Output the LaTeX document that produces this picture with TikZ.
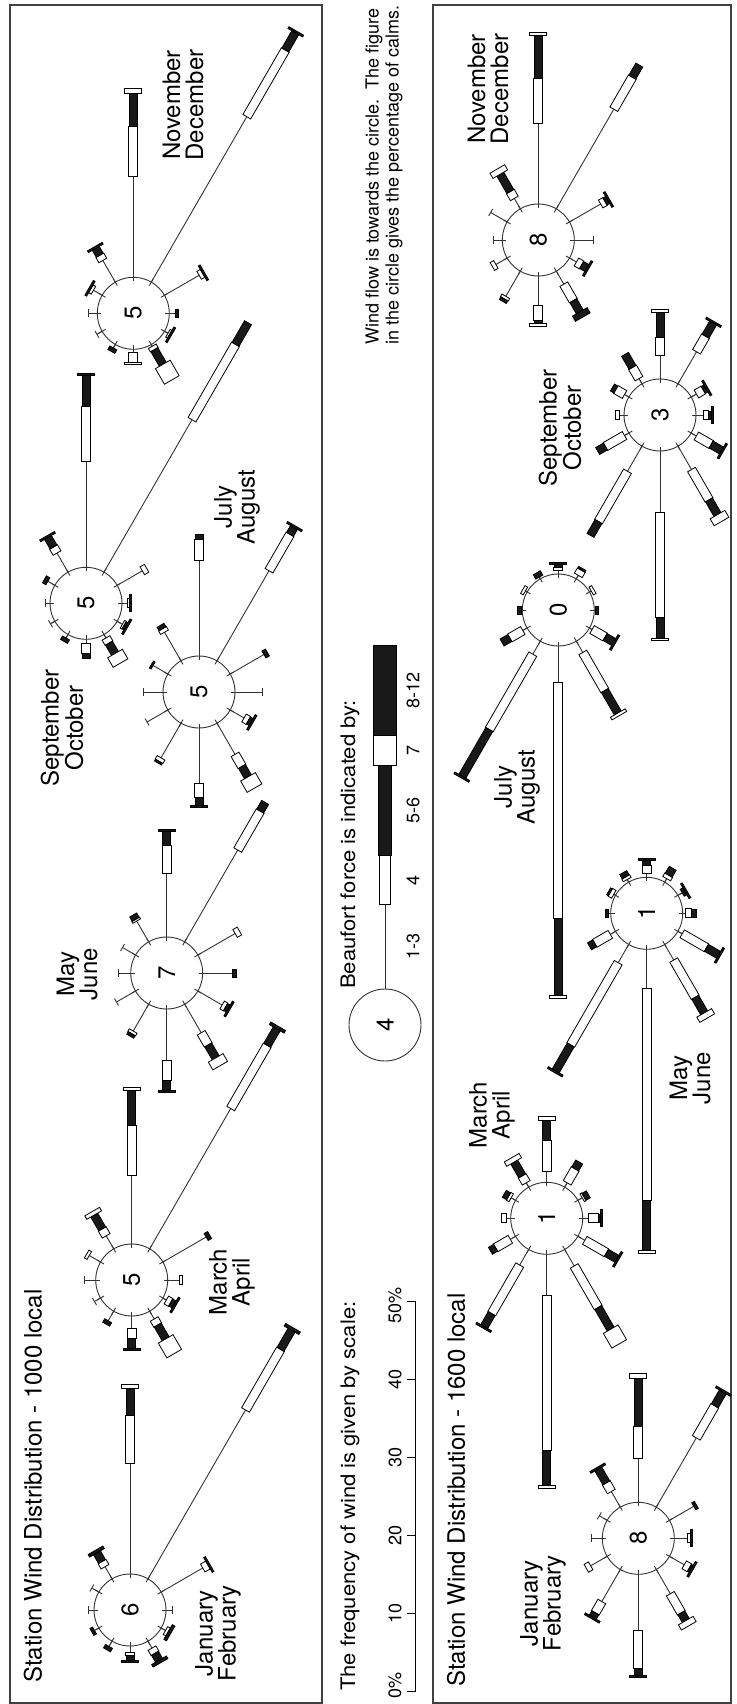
\documentclass[tikz,border=0pt]{standalone}
\usepackage{fontspec}
\setmainfont{TeX Gyre Heros}
\usepackage{graphicx}
\newcommand\labfont{\fontsize{24}{23}\selectfont}
\newcommand\numfont{\fontsize{24}{24}\selectfont}
\newcommand\legfont{\fontsize{20}{22}\selectfont}
\newcommand\smallfont{\fontsize{18}{20}\selectfont}
\tikzset{
 roseline/.style={draw=black!80, line width=0.9pt},
 wbox/.style={draw=black, fill=white, line width=0.8pt},
 bbox/.style={draw=black, fill=black!90, line width=0.8pt},
 panel/.style={draw=black!75, line width=1.6pt},
 lbl/.style={rotate=90, inner sep=0pt, align=center, font=\labfont},
 ringnode/.style={circle, draw=black!80, line width=0.9pt, minimum size=72pt, inner sep=0pt, rotate=90, font=\numfont},
}
\newcommand\rose[5]{%
 \begin{scope}[shift={(#2,-#3)}]
  \node[ringnode] (#1) at (0,0) {#4};
  \foreach \a in {0,30,...,330} \draw[roseline] (\a:32pt) -- (\a:40pt);
  \foreach \a/\la/\lb/\lc/\ld/\le in {#5} {
   \begin{scope}[rotate=\a]
    \pgfmathsetmacro\dA{36+\la}
    \pgfmathsetmacro\dB{\dA+\lb}
    \pgfmathsetmacro\dC{\dB+\lc}
    \pgfmathsetmacro\dD{\dC+\ld}
    \pgfmathsetmacro\dE{\dD+\le}
    \pgfmathsetmacro\rest{\lb+\lc+\ld+\le}
    \draw[roseline] (36pt,0) -- (\dA pt,0);
    \ifdim\lb pt>0pt \draw[wbox] (\dA pt,-4.5pt) rectangle (\dB pt,4.5pt);\fi
    \ifdim\lc pt>0pt \draw[bbox] (\dB pt,-4pt) rectangle (\dC pt,4pt);\fi
    \ifdim\ld pt>0pt \draw[wbox] (\dC pt,-8.5pt) rectangle (\dD pt,8.5pt);\fi
    \ifdim\le pt>0pt \draw[bbox] (\dD pt,-8.5pt) rectangle (\dE pt,8.5pt);\fi
    \ifdim\rest pt=0pt \draw[roseline] (\dA pt,-4pt) -- (\dA pt,4pt);\fi
   \end{scope}}
 \end{scope}}
\begin{document}
\begin{tikzpicture}[x=1pt,y=1pt]
\useasboundingbox (0,0) rectangle (736,-1704);
% panels
\draw[panel] (10,-5) rectangle (322,-1703);
\draw[panel] (433,-5) rectangle (731,-1703);
\node[rotate=90, anchor=west, inner sep=0pt, font=\labfont] (t1) at (33,-1683) {Station Wind Distribution - 1000 local};
\node[rotate=90, anchor=west, inner sep=0pt, font=\labfont] (t2) at (456,-1687) {Station Wind Distribution - 1600 local};
% ---- 1000 local roses
\rose{ra}{130}{1610}{6}{90/111/48/27/4/0, 60/195/70/22/0/3, 30/48/6/0/0/2, 0/6/0/0/0/0, -30/5/3/0/0/3, -60/8/6/8/0/3, -90/6/3/5/0/2, -120/6/0/4/0/0, -150/5/0/3/0/0, 180/6/0/0/0/0, 150/8/0/0/0/0, 120/14/6/10/0/3}
\rose{rb}{131.7}{1280}{5}{90/69/50/35/3/0, 60/162/73/19/0/3, 30/50/0/4/0/0, 0/12/3/0/0/0, -30/4/5/4/0/2, -60/9/7/16/17/0, -90/12/10/10/0/2, -120/11/0/4/0/0, -150/7/0/0/0/0, 180/11/0/0/0/0, 150/13/3/0/0/0, 120/15/8/16/4/0}
\rose{rc}{166.7}{973}{7}{90/64/28/14/0/2, 60/106/45/10/0/0, 30/43/5/0/0/0, 0/30/0/4/0/0, -30/28/4/3/0/2, -60/33/14/15/9/0, -90/51/20/10/0/2, -120/31/3/3/0/0, -150/22/0/0/0/0, 180/12/0/0/0/0, 150/15/0/0/0/0, 120/24/2/5/0/0}
\rose{rd}{199}{692}{5}{90/96/21/5/0/0, 60/104/42/8/0/2, 30/39/0/4/0/0, 0/27/0/0/0/0, -30/16/5/3/0/2, -60/36/14/12/13/0, -90/55/14/8/0/2, -120/40/4/2/0/0, -150/24/0/0/0/0, 180/20/0/0/0/0, 150/17/0/2/0/0, 120/33/4/4/0/0}
\rose{re}{86}{603.3}{5}{90/106/55/31/0/2, 60/176/87/25/0/0, 30/29/5/0/0/0, 0/5/2/0/0/2, -30/6/2/2/0/2, -60/4/6/12/11/0, -90/4/10/5/0/0, -120/4/0/4/0/0, -150/5/0/0/0/0, 180/5/0/0/0/0, 150/8/0/4/0/0, 120/22/7/11/0/2}
\rose{rf}{133.3}{313.3}{5}{90/101/50/33/5/0, 60/191/77/20/0/2, 30/40/4/0/0/2, 0/6/0/3/0/0, -30/4/2/0/0/2, -60/2/4/17/18/0, -90/3/10/0/2/0, -120/4/0/4/0/0, -150/6/0/0/0/0, 180/9/0/0/0/0, 150/10/3/0/0/2, 120/25/6/8/0/2}
% ---- 1600 local roses
\rose{rg}{638.3}{1538.3}{8}{90/44/32/48/5/0, 60/80/37/16/0/2, 30/28/0/3/0/0, 0/13/3/0/0/2, -30/17/6/2/0/2, -60/28/22/9/6/0, -90/56/38/7/0/2, -120/37/13/5/0/2, -150/19/5/0/0/0, 180/11/0/0/0/0, 150/9/0/0/0/0, 120/18/10/16/0/2}
\rose{rh}{546.7}{1218.3}{1}{90/11/31/20/4/0, 60/5/16/8/0/0, 30/5/2/5/0/0, 0/6/10/2/0/2, -30/8/25/12/0/2, -60/19/48/25/17/0, -90/41/155/35/3/0, -120/18/56/15/0/2, -150/6/17/6/0/0, 180/4/5/0/0/0, 150/5/3/5/0/0, 120/5/8/16/5/0}
\rose{ri}{646.7}{913.3}{1}{90/4/8/5/0/2, 60/4/4/8/0/0, 30/5/0/3/0/2, 0/3/6/5/0/0, -30/5/28/14/0/2, -60/18/43/18/6/0, -90/39/212/50/3/0, -120/21/95/30/0/2, -150/6/18/6/0/0, 180/2/0/3/0/0, 150/2/4/2/0/0, 120/3/3/5/0/0}
\rose{rj}{558.3}{610}{0}{90/4/3/3/0/2, 60/4/6/2/0/0, 30/2/3/0/0/0, 0/1/0/3/0/0, -30/3/15/10/0/2, -60/13/44/26/3/0, -90/36/236/77/3/0, -120/15/87/54/0/2, -150/5/15/9/0/0, 180/1/0/4/0/0, 150/2/3/0/0/0, 120/2/0/5/0/0}
\rose{rk}{660}{415}{3}{90/24/18/25/3/0, 60/37/18/15/0/2, 30/6/8/3/0/2, 0/7/5/3/0/2, -30/6/17/12/0/2, -60/27/35/17/8/0, -90/61/105/21/2/0, -120/29/58/16/0/0, -150/5/22/9/0/0, 180/5/4/0/0/0, 150/5/10/4/0/0, 120/6/13/15/0/0}
\rose{rl}{538.3}{240}{8}{90/81/45/43/3/0, 60/115/37/14/0/0, 30/36/5/3/0/2, 0/19/0/0/0/0, -30/8/6/6/0/2, -60/15/19/13/0/6, -90/29/15/3/3/0, -120/29/3/3/0/0, -150/13/4/0/0/0, 180/9/0/0/0/0, 150/19/0/0/0/0, 120/12/8/20/6/0}
% ---- month labels
\node[lbl] (ma) at (218,-1633) {January\\February};
\node[lbl] (mb) at (232,-1282) {March\\April};
\node[lbl] (mc) at (77,-974) {May\\June};
\node[lbl] (md) at (237,-507) {July\\August};
\node[lbl] (me) at (62,-728) {September\\October};
\node[lbl] (mf) at (183,-105) {November\\December};
\node[lbl] (mg) at (543,-1603) {January\\February};
\node[lbl] (mh) at (492,-1115) {March\\April};
\node[lbl] (mi) at (690,-1078) {May\\June};
\node[lbl] (mj) at (517,-787) {July\\August};
\node[lbl] (mk) at (560,-428) {September\\October};
\node[lbl] (ml) at (488,-89) {November\\December};
% ---- scale legend
\node[rotate=90, anchor=west, inner sep=0pt, font=\legfont] (scaletext) at (350,-1691) {\scalebox{1.1}[1]{The frequency of wind is given by scale:}};
\draw[line width=0.9pt] (407,-1691) -- (415,-1691) -- (415,-1301) -- (407,-1301);
\foreach \y in {1613,1535,1457,1379} \draw[line width=0.9pt] (407,-\y) -- (415,-\y);
\node[rotate=90, inner sep=0pt, font=\smallfont] (s0) at (395,-1685) {0\%};
\node[rotate=90, inner sep=0pt, font=\smallfont] (s1) at (395,-1613) {10};
\node[rotate=90, inner sep=0pt, font=\smallfont] (s2) at (395,-1535) {20};
\node[rotate=90, inner sep=0pt, font=\smallfont] (s3) at (395,-1457) {30};
\node[rotate=90, inner sep=0pt, font=\smallfont] (s4) at (395,-1379) {40};
\node[rotate=90, inner sep=0pt, font=\smallfont] (s5) at (395,-1305) {50\%};
% ---- Beaufort legend
\node[rotate=90, anchor=west, inner sep=0pt, font=\legfont] (beau) at (350,-989) {\scalebox{1.1}[1]{Beaufort force is indicated by:}};
\node[ringnode] (leg) at (385,-1025) {4};
\draw[roseline] (leg.east) -- (385,-904);
\draw[wbox] (379.5,-904) rectangle (390.5,-855);
\draw[bbox] (378.5,-855) rectangle (391.5,-765);
\draw[wbox] (373.5,-765) rectangle (396.5,-735);
\draw[bbox] (373.5,-735) rectangle (396.5,-645);
\node[rotate=90, inner sep=0pt, font=\smallfont] (b1) at (413,-946) {1-3};
\node[rotate=90, inner sep=0pt, font=\smallfont] (b2) at (413,-880) {4};
\node[rotate=90, inner sep=0pt, font=\smallfont] (b3) at (413,-810) {5-6};
\node[rotate=90, inner sep=0pt, font=\smallfont] (b4) at (413,-750) {7};
\node[rotate=90, inner sep=0pt, font=\smallfont] (b5) at (413,-690) {8-12};
% ---- calms note
\node[rotate=90, anchor=west, inner sep=0pt, align=left, font=\smallfont] (note) at (384,-345) {Wind flow is towards the circle.\ \ The figure\\in the circle gives the percentage of calms.};
\end{tikzpicture}
\end{document}
